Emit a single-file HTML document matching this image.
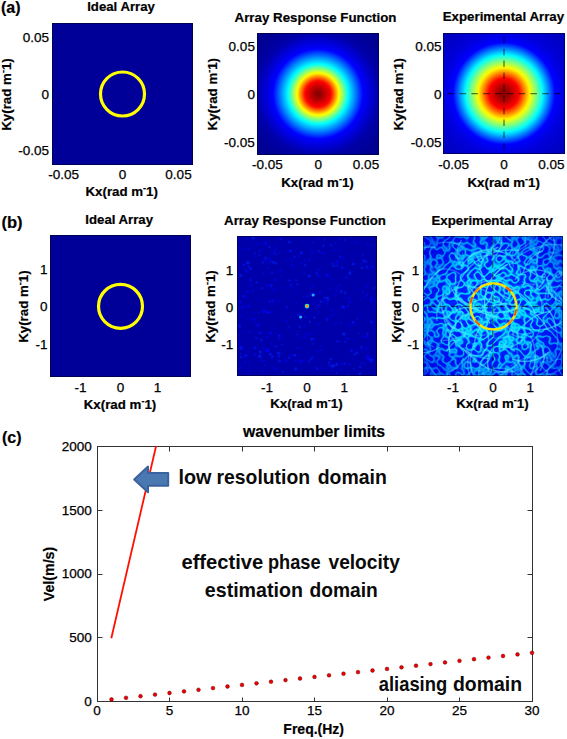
<!DOCTYPE html>
<html><head><meta charset="utf-8"><style>
html,body{margin:0;padding:0;background:#fff;width:567px;height:739px;overflow:hidden}
svg{display:block}
</style></head><body>
<svg width="567" height="739" viewBox="0 0 567 739" font-family="Liberation Sans, sans-serif">
<defs><radialGradient id="garf" gradientUnits="userSpaceOnUse" cx="318.0" cy="94.0" r="90.0"><stop offset="0.0000" stop-color="#800000"/><stop offset="0.0167" stop-color="#8c0000"/><stop offset="0.0333" stop-color="#990000"/><stop offset="0.0500" stop-color="#a60000"/><stop offset="0.0667" stop-color="#b30000"/><stop offset="0.0833" stop-color="#c30000"/><stop offset="0.1000" stop-color="#d30000"/><stop offset="0.1167" stop-color="#e40000"/><stop offset="0.1333" stop-color="#f40000"/><stop offset="0.1500" stop-color="#ff1000"/><stop offset="0.1667" stop-color="#ff4000"/><stop offset="0.1833" stop-color="#ff7000"/><stop offset="0.2000" stop-color="#ff9f00"/><stop offset="0.2167" stop-color="#ffcf00"/><stop offset="0.2333" stop-color="#ffff00"/><stop offset="0.2500" stop-color="#d5ff2a"/><stop offset="0.2667" stop-color="#aaff55"/><stop offset="0.2833" stop-color="#80ff80"/><stop offset="0.3000" stop-color="#55ffaa"/><stop offset="0.3167" stop-color="#2affd5"/><stop offset="0.3333" stop-color="#00ffff"/><stop offset="0.3500" stop-color="#00e5ff"/><stop offset="0.3667" stop-color="#00ccff"/><stop offset="0.3833" stop-color="#00b2ff"/><stop offset="0.4000" stop-color="#0099ff"/><stop offset="0.4167" stop-color="#0080ff"/><stop offset="0.4333" stop-color="#0066ff"/><stop offset="0.4500" stop-color="#004dff"/><stop offset="0.4667" stop-color="#0033ff"/><stop offset="0.4833" stop-color="#001aff"/><stop offset="0.5000" stop-color="#0000ff"/><stop offset="0.5167" stop-color="#0000f7"/><stop offset="0.5333" stop-color="#0000ef"/><stop offset="0.5500" stop-color="#0000e7"/><stop offset="0.5667" stop-color="#0000de"/><stop offset="0.5833" stop-color="#0000d6"/><stop offset="0.6000" stop-color="#0000ce"/><stop offset="0.6167" stop-color="#0000c6"/><stop offset="0.6333" stop-color="#0000be"/><stop offset="0.6500" stop-color="#0000b6"/><stop offset="0.6667" stop-color="#0000ae"/><stop offset="0.6833" stop-color="#0000a8"/><stop offset="0.7000" stop-color="#0000a5"/><stop offset="0.7167" stop-color="#0000a3"/><stop offset="0.7333" stop-color="#0000a1"/><stop offset="0.7500" stop-color="#00009f"/><stop offset="0.7667" stop-color="#00009d"/><stop offset="0.7833" stop-color="#00009a"/><stop offset="0.8000" stop-color="#000098"/><stop offset="0.8167" stop-color="#000096"/><stop offset="0.8333" stop-color="#000094"/><stop offset="0.8500" stop-color="#000093"/><stop offset="0.8667" stop-color="#000092"/><stop offset="0.8833" stop-color="#000091"/><stop offset="0.9000" stop-color="#000090"/><stop offset="0.9167" stop-color="#00008f"/><stop offset="0.9333" stop-color="#00008e"/><stop offset="0.9500" stop-color="#00008d"/><stop offset="0.9667" stop-color="#00008c"/><stop offset="0.9833" stop-color="#00008b"/><stop offset="1.0000" stop-color="#00008a"/></radialGradient><radialGradient id="gexp" gradientUnits="userSpaceOnUse" cx="504.0" cy="93.5" r="90.0"><stop offset="0.0000" stop-color="#800000"/><stop offset="0.0167" stop-color="#8a0000"/><stop offset="0.0333" stop-color="#950000"/><stop offset="0.0500" stop-color="#a00000"/><stop offset="0.0667" stop-color="#ab0000"/><stop offset="0.0833" stop-color="#b70000"/><stop offset="0.1000" stop-color="#c60000"/><stop offset="0.1167" stop-color="#d40000"/><stop offset="0.1333" stop-color="#e20000"/><stop offset="0.1500" stop-color="#f10000"/><stop offset="0.1667" stop-color="#ff0000"/><stop offset="0.1833" stop-color="#ff2300"/><stop offset="0.2000" stop-color="#ff4600"/><stop offset="0.2167" stop-color="#ff6800"/><stop offset="0.2333" stop-color="#ff8b00"/><stop offset="0.2500" stop-color="#ffae00"/><stop offset="0.2667" stop-color="#ffd100"/><stop offset="0.2833" stop-color="#fff300"/><stop offset="0.3000" stop-color="#ebff14"/><stop offset="0.3167" stop-color="#ccff33"/><stop offset="0.3333" stop-color="#adff52"/><stop offset="0.3500" stop-color="#8fff70"/><stop offset="0.3667" stop-color="#70ff8f"/><stop offset="0.3833" stop-color="#52ffad"/><stop offset="0.4000" stop-color="#33ffcc"/><stop offset="0.4167" stop-color="#14ffeb"/><stop offset="0.4333" stop-color="#00f5ff"/><stop offset="0.4500" stop-color="#00d6ff"/><stop offset="0.4667" stop-color="#00b8ff"/><stop offset="0.4833" stop-color="#0099ff"/><stop offset="0.5000" stop-color="#007aff"/><stop offset="0.5167" stop-color="#005cff"/><stop offset="0.5333" stop-color="#003dff"/><stop offset="0.5500" stop-color="#001fff"/><stop offset="0.5667" stop-color="#0000ff"/><stop offset="0.5833" stop-color="#0000fa"/><stop offset="0.6000" stop-color="#0000f4"/><stop offset="0.6167" stop-color="#0000ef"/><stop offset="0.6333" stop-color="#0000ea"/><stop offset="0.6500" stop-color="#0000e4"/><stop offset="0.6667" stop-color="#0000df"/><stop offset="0.6833" stop-color="#0000db"/><stop offset="0.7000" stop-color="#0000d8"/><stop offset="0.7167" stop-color="#0000d6"/><stop offset="0.7333" stop-color="#0000d4"/><stop offset="0.7500" stop-color="#0000d2"/><stop offset="0.7667" stop-color="#0000d0"/><stop offset="0.7833" stop-color="#0000cd"/><stop offset="0.8000" stop-color="#0000cb"/><stop offset="0.8167" stop-color="#0000c9"/><stop offset="0.8333" stop-color="#0000c7"/><stop offset="0.8500" stop-color="#0000c5"/><stop offset="0.8667" stop-color="#0000c4"/><stop offset="0.8833" stop-color="#0000c2"/><stop offset="0.9000" stop-color="#0000c1"/><stop offset="0.9167" stop-color="#0000bf"/><stop offset="0.9333" stop-color="#0000be"/><stop offset="0.9500" stop-color="#0000bc"/><stop offset="0.9667" stop-color="#0000bb"/><stop offset="0.9833" stop-color="#0000b9"/><stop offset="1.0000" stop-color="#0000b8"/></radialGradient><filter id="bl2" x="-5%" y="-5%" width="110%" height="110%"><feGaussianBlur stdDeviation="0.75"/></filter><clipPath id="ca"><rect x="237" y="236" width="140" height="140"/></clipPath></defs>
<text x="1.00" y="13.00" font-size="16.00" font-weight="bold" text-anchor="start" fill="#000" stroke="#000" stroke-width="0.20" >(a)</text><text x="121.00" y="11.30" font-size="13.20" font-weight="bold" text-anchor="middle" fill="#000" stroke="#000" stroke-width="0.20" >Ideal Array</text><rect x="52" y="23" width="141" height="142" fill="#000098"/><circle cx="122.5" cy="94" r="22" fill="none" stroke="#ffff00" stroke-width="3.2"/><text x="49.00" y="42.45" font-size="13.50" text-anchor="end" fill="#000" stroke="#000" stroke-width="0.25" >0.05</text><text x="49.00" y="98.75" font-size="13.50" text-anchor="end" fill="#000" stroke="#000" stroke-width="0.25" >0</text><text x="49.00" y="155.05" font-size="13.50" text-anchor="end" fill="#000" stroke="#000" stroke-width="0.25" >-0.05</text><text x="63.70" y="179.10" font-size="13.50" text-anchor="middle" fill="#000" stroke="#000" stroke-width="0.25" >-0.05</text><text x="122.60" y="179.10" font-size="13.50" text-anchor="middle" fill="#000" stroke="#000" stroke-width="0.25" >0</text><text x="178.50" y="179.10" font-size="13.50" text-anchor="middle" fill="#000" stroke="#000" stroke-width="0.25" >0.05</text><text x="121.70" y="196.20" font-size="13.30" font-weight="bold" text-anchor="middle" fill="#000" stroke="#000" stroke-width="0.20" >Kx(rad m<tspan font-size="9" dy="-5">-</tspan><tspan dy="5">1)</tspan></text><text transform="translate(11.20 94.50) rotate(-90)" font-size="13.30" font-weight="bold" text-anchor="middle" stroke="#000" stroke-width="0.20">Ky(rad m<tspan font-size="9" dy="-5">-</tspan><tspan dy="5">1)</tspan></text><text x="315.50" y="21.50" font-size="13.30" font-weight="bold" text-anchor="middle" fill="#000" stroke="#000" stroke-width="0.20" >Array Response Function</text><rect x="257" y="33" width="122" height="122" fill="url(#garf)"/><text x="254.90" y="50.75" font-size="13.50" text-anchor="end" fill="#000" stroke="#000" stroke-width="0.25" >0.05</text><text x="254.90" y="98.95" font-size="13.50" text-anchor="end" fill="#000" stroke="#000" stroke-width="0.25" >0</text><text x="254.90" y="147.15" font-size="13.50" text-anchor="end" fill="#000" stroke="#000" stroke-width="0.25" >-0.05</text><text x="267.50" y="169.20" font-size="13.50" text-anchor="middle" fill="#000" stroke="#000" stroke-width="0.25" >-0.05</text><text x="318.20" y="169.20" font-size="13.50" text-anchor="middle" fill="#000" stroke="#000" stroke-width="0.25" >0</text><text x="366.00" y="169.20" font-size="13.50" text-anchor="middle" fill="#000" stroke="#000" stroke-width="0.25" >0.05</text><text x="317.50" y="187.00" font-size="13.30" font-weight="bold" text-anchor="middle" fill="#000" stroke="#000" stroke-width="0.20" >Kx(rad m<tspan font-size="9" dy="-5">-</tspan><tspan dy="5">1)</tspan></text><text transform="translate(216.90 94.20) rotate(-90)" font-size="13.30" font-weight="bold" text-anchor="middle" stroke="#000" stroke-width="0.20">Ky(rad m<tspan font-size="9" dy="-5">-</tspan><tspan dy="5">1)</tspan></text><text x="503.40" y="21.40" font-size="13.30" font-weight="bold" text-anchor="middle" fill="#000" stroke="#000" stroke-width="0.20" >Experimental Array</text><rect x="443" y="33" width="122" height="121" fill="url(#gexp)"/><g stroke="#000" stroke-width="1.25" stroke-dasharray="6.5 5.3" opacity="0.55"><line x1="504" y1="33" x2="504" y2="154" stroke-dashoffset="7.8"/><line x1="443" y1="93.5" x2="565" y2="93.5" stroke-dashoffset="7"/></g><text x="441.60" y="50.75" font-size="13.50" text-anchor="end" fill="#000" stroke="#000" stroke-width="0.25" >0.05</text><text x="441.60" y="98.95" font-size="13.50" text-anchor="end" fill="#000" stroke="#000" stroke-width="0.25" >0</text><text x="441.60" y="147.15" font-size="13.50" text-anchor="end" fill="#000" stroke="#000" stroke-width="0.25" >-0.05</text><text x="453.70" y="169.20" font-size="13.50" text-anchor="middle" fill="#000" stroke="#000" stroke-width="0.25" >-0.05</text><text x="503.90" y="169.20" font-size="13.50" text-anchor="middle" fill="#000" stroke="#000" stroke-width="0.25" >0</text><text x="551.40" y="169.20" font-size="13.50" text-anchor="middle" fill="#000" stroke="#000" stroke-width="0.25" >0.05</text><text x="503.70" y="186.70" font-size="13.30" font-weight="bold" text-anchor="middle" fill="#000" stroke="#000" stroke-width="0.20" >Kx(rad m<tspan font-size="9" dy="-5">-</tspan><tspan dy="5">1)</tspan></text><text transform="translate(403.40 94.20) rotate(-90)" font-size="13.30" font-weight="bold" text-anchor="middle" stroke="#000" stroke-width="0.20">Ky(rad m<tspan font-size="9" dy="-5">-</tspan><tspan dy="5">1)</tspan></text><text x="1.50" y="227.80" font-size="16.50" font-weight="bold" text-anchor="start" fill="#000" stroke="#000" stroke-width="0.20" >(b)</text><text x="119.20" y="223.90" font-size="13.20" font-weight="bold" text-anchor="middle" fill="#000" stroke="#000" stroke-width="0.20" >Ideal Array</text><rect x="50" y="235" width="141" height="142" fill="#000098"/><circle cx="120.5" cy="306.3" r="22" fill="none" stroke="#ffff00" stroke-width="3.2"/><text x="47.50" y="274.15" font-size="13.50" text-anchor="end" fill="#000" stroke="#000" stroke-width="0.25" >1</text><text x="47.50" y="311.45" font-size="13.50" text-anchor="end" fill="#000" stroke="#000" stroke-width="0.25" >0</text><text x="47.50" y="349.05" font-size="13.50" text-anchor="end" fill="#000" stroke="#000" stroke-width="0.25" >-1</text><text x="80.50" y="391.90" font-size="13.50" text-anchor="middle" fill="#000" stroke="#000" stroke-width="0.25" >-1</text><text x="120.40" y="391.90" font-size="13.50" text-anchor="middle" fill="#000" stroke="#000" stroke-width="0.25" >0</text><text x="157.50" y="391.90" font-size="13.50" text-anchor="middle" fill="#000" stroke="#000" stroke-width="0.25" >1</text><text x="120.00" y="408.80" font-size="13.30" font-weight="bold" text-anchor="middle" fill="#000" stroke="#000" stroke-width="0.20" >Kx(rad m<tspan font-size="9" dy="-5">-</tspan><tspan dy="5">1)</tspan></text><text transform="translate(28.00 306.60) rotate(-90)" font-size="13.30" font-weight="bold" text-anchor="middle" stroke="#000" stroke-width="0.20">Ky(rad m<tspan font-size="9" dy="-5">-</tspan><tspan dy="5">1)</tspan></text><text x="305.00" y="224.70" font-size="13.30" font-weight="bold" text-anchor="middle" fill="#000" stroke="#000" stroke-width="0.20" >Array Response Function</text><rect x="237" y="236" width="140" height="140" fill="#0000aa"/><g clip-path="url(#ca)"><g filter="url(#bl2)"><circle cx="270.3" cy="312.2" r="1.2" fill="#0015ff" opacity="0.47"/><circle cx="246.2" cy="237.8" r="1.6" fill="#0003ff" opacity="0.33"/><circle cx="376.4" cy="301.8" r="1.6" fill="#000eff" opacity="0.47"/><circle cx="258.1" cy="324.9" r="1.7" fill="#0010ff" opacity="0.51"/><circle cx="331.0" cy="245.0" r="1.6" fill="#0014ff" opacity="0.36"/><circle cx="241.3" cy="357.2" r="1.3" fill="#001aff" opacity="0.56"/><circle cx="337.0" cy="365.0" r="1.2" fill="#001fff" opacity="0.41"/><circle cx="368.0" cy="359.0" r="0.9" fill="#0000fc" opacity="0.33"/><circle cx="372.2" cy="297.1" r="1.4" fill="#0005ff" opacity="0.43"/><circle cx="291.0" cy="285.1" r="1.4" fill="#0014ff" opacity="0.57"/><circle cx="332.5" cy="366.1" r="1.7" fill="#0028ff" opacity="0.48"/><circle cx="259.8" cy="356.5" r="1.8" fill="#0024ff" opacity="0.45"/><circle cx="336.9" cy="265.6" r="1.6" fill="#0013ff" opacity="0.35"/><circle cx="245.9" cy="355.6" r="1.8" fill="#0000f9" opacity="0.53"/><circle cx="294.5" cy="257.1" r="1.1" fill="#001dff" opacity="0.56"/><circle cx="243.2" cy="322.0" r="0.8" fill="#001aff" opacity="0.37"/><circle cx="360.3" cy="373.3" r="1.3" fill="#0029ff" opacity="0.36"/><circle cx="247.8" cy="320.0" r="0.8" fill="#0000ff" opacity="0.39"/><circle cx="322.5" cy="257.9" r="0.8" fill="#0022ff" opacity="0.36"/><circle cx="371.2" cy="361.5" r="1.2" fill="#000dff" opacity="0.43"/><circle cx="327.1" cy="319.4" r="1.4" fill="#0015ff" opacity="0.58"/><circle cx="308.0" cy="296.4" r="1.5" fill="#0002ff" opacity="0.36"/><circle cx="373.9" cy="309.0" r="1.3" fill="#0000f5" opacity="0.40"/><circle cx="318.2" cy="238.8" r="1.4" fill="#0016ff" opacity="0.27"/><circle cx="324.8" cy="301.3" r="1.5" fill="#0008ff" opacity="0.50"/><circle cx="340.3" cy="239.1" r="0.9" fill="#0018ff" opacity="0.59"/><circle cx="272.2" cy="299.9" r="1.4" fill="#0006ff" opacity="0.38"/><circle cx="280.8" cy="287.7" r="1.4" fill="#0005ff" opacity="0.38"/><circle cx="345.1" cy="239.8" r="1.4" fill="#001bff" opacity="0.36"/><circle cx="268.2" cy="348.5" r="1.0" fill="#0000fe" opacity="0.40"/><circle cx="334.7" cy="250.3" r="1.1" fill="#0007ff" opacity="0.54"/><circle cx="298.4" cy="355.8" r="1.0" fill="#0007ff" opacity="0.48"/><circle cx="360.9" cy="299.2" r="1.0" fill="#0000fb" opacity="0.44"/><circle cx="263.7" cy="348.9" r="1.6" fill="#0000fe" opacity="0.35"/><circle cx="350.0" cy="325.9" r="1.6" fill="#0007ff" opacity="0.30"/><circle cx="277.9" cy="347.1" r="1.1" fill="#0007ff" opacity="0.40"/><circle cx="295.8" cy="293.3" r="1.7" fill="#0000fd" opacity="0.25"/><circle cx="369.1" cy="359.2" r="1.8" fill="#000cff" opacity="0.58"/><circle cx="366.8" cy="267.1" r="1.5" fill="#0020ff" opacity="0.48"/><circle cx="309.7" cy="276.5" r="1.1" fill="#0001ff" opacity="0.27"/><circle cx="319.4" cy="276.2" r="1.6" fill="#0000f7" opacity="0.57"/><circle cx="334.1" cy="365.3" r="1.7" fill="#0024ff" opacity="0.45"/><circle cx="238.8" cy="340.3" r="1.0" fill="#0005ff" opacity="0.48"/><circle cx="310.5" cy="293.9" r="1.7" fill="#0015ff" opacity="0.37"/><circle cx="272.3" cy="356.6" r="1.3" fill="#001eff" opacity="0.37"/><circle cx="264.6" cy="310.8" r="1.6" fill="#0000fe" opacity="0.53"/><circle cx="366.0" cy="348.8" r="1.6" fill="#0000f5" opacity="0.47"/><circle cx="357.8" cy="243.0" r="1.1" fill="#0003ff" opacity="0.43"/><circle cx="296.2" cy="302.2" r="1.6" fill="#0000f5" opacity="0.27"/><circle cx="254.8" cy="253.4" r="0.9" fill="#0028ff" opacity="0.55"/><circle cx="249.1" cy="306.3" r="1.1" fill="#0006ff" opacity="0.37"/><circle cx="327.6" cy="318.1" r="1.2" fill="#0000ff" opacity="0.37"/><circle cx="254.3" cy="313.8" r="1.5" fill="#0009ff" opacity="0.28"/><circle cx="262.0" cy="288.3" r="1.4" fill="#001eff" opacity="0.38"/><circle cx="349.2" cy="323.2" r="1.2" fill="#0009ff" opacity="0.42"/><circle cx="335.4" cy="294.9" r="1.5" fill="#000dff" opacity="0.34"/><circle cx="312.0" cy="333.3" r="0.9" fill="#000bff" opacity="0.40"/><circle cx="360.2" cy="367.1" r="1.2" fill="#0024ff" opacity="0.53"/><circle cx="273.7" cy="301.0" r="0.9" fill="#001fff" opacity="0.48"/><circle cx="361.2" cy="346.9" r="1.5" fill="#001bff" opacity="0.45"/><circle cx="251.4" cy="318.3" r="0.8" fill="#0000fc" opacity="0.52"/><circle cx="243.2" cy="248.9" r="0.9" fill="#0023ff" opacity="0.31"/><circle cx="240.3" cy="353.8" r="0.9" fill="#0021ff" opacity="0.49"/><circle cx="354.1" cy="369.3" r="1.4" fill="#001fff" opacity="0.26"/><circle cx="344.4" cy="307.6" r="1.5" fill="#0000fa" opacity="0.51"/><circle cx="367.8" cy="244.6" r="1.1" fill="#0013ff" opacity="0.54"/><circle cx="270.9" cy="261.2" r="1.0" fill="#0015ff" opacity="0.51"/><circle cx="292.1" cy="287.4" r="1.2" fill="#0008ff" opacity="0.40"/><circle cx="248.7" cy="306.0" r="1.8" fill="#000bff" opacity="0.51"/><circle cx="259.5" cy="332.7" r="1.6" fill="#0018ff" opacity="0.43"/><circle cx="304.7" cy="326.0" r="1.7" fill="#0000fc" opacity="0.28"/><circle cx="341.7" cy="364.3" r="1.3" fill="#000cff" opacity="0.50"/><circle cx="263.1" cy="273.4" r="1.0" fill="#0014ff" opacity="0.36"/><circle cx="269.5" cy="332.8" r="1.8" fill="#0005ff" opacity="0.50"/><circle cx="294.8" cy="355.5" r="1.4" fill="#0003ff" opacity="0.33"/><circle cx="240.2" cy="303.1" r="1.2" fill="#0000fe" opacity="0.38"/><circle cx="282.1" cy="344.4" r="0.9" fill="#0028ff" opacity="0.42"/><circle cx="320.9" cy="301.5" r="1.6" fill="#0020ff" opacity="0.44"/><circle cx="304.4" cy="336.9" r="1.7" fill="#000aff" opacity="0.51"/><circle cx="371.4" cy="301.4" r="1.0" fill="#0002ff" opacity="0.50"/><circle cx="331.5" cy="370.2" r="1.7" fill="#0002ff" opacity="0.32"/><circle cx="273.2" cy="262.2" r="1.5" fill="#0022ff" opacity="0.56"/><circle cx="272.7" cy="357.1" r="1.1" fill="#000bff" opacity="0.51"/><circle cx="249.0" cy="249.0" r="1.6" fill="#0005ff" opacity="0.37"/><circle cx="318.2" cy="330.6" r="0.8" fill="#0007ff" opacity="0.40"/><circle cx="305.0" cy="265.4" r="1.4" fill="#0027ff" opacity="0.39"/><circle cx="313.2" cy="252.7" r="1.1" fill="#0018ff" opacity="0.29"/><circle cx="361.2" cy="363.2" r="0.9" fill="#0026ff" opacity="0.38"/><circle cx="345.1" cy="342.0" r="1.1" fill="#0018ff" opacity="0.48"/><circle cx="349.8" cy="273.2" r="1.6" fill="#0027ff" opacity="0.49"/><circle cx="312.1" cy="251.9" r="1.3" fill="#0008ff" opacity="0.50"/><circle cx="332.0" cy="315.3" r="1.0" fill="#0017ff" opacity="0.47"/><circle cx="262.1" cy="360.6" r="1.5" fill="#0000fb" opacity="0.58"/><circle cx="256.8" cy="282.4" r="1.5" fill="#0014ff" opacity="0.44"/><circle cx="327.6" cy="300.1" r="1.1" fill="#0000fe" opacity="0.27"/><circle cx="337.2" cy="341.6" r="1.3" fill="#001cff" opacity="0.38"/><circle cx="274.2" cy="289.7" r="1.7" fill="#0000f7" opacity="0.43"/><circle cx="271.6" cy="343.6" r="1.2" fill="#0007ff" opacity="0.39"/><circle cx="312.8" cy="344.0" r="1.2" fill="#0021ff" opacity="0.29"/><circle cx="274.9" cy="250.0" r="0.9" fill="#001eff" opacity="0.50"/><circle cx="262.9" cy="262.5" r="1.2" fill="#001cff" opacity="0.54"/><circle cx="341.8" cy="318.9" r="0.9" fill="#000aff" opacity="0.32"/><circle cx="310.9" cy="315.6" r="1.0" fill="#0003ff" opacity="0.52"/><circle cx="241.2" cy="348.4" r="1.7" fill="#0026ff" opacity="0.38"/><circle cx="314.4" cy="317.6" r="1.4" fill="#0028ff" opacity="0.49"/><circle cx="278.9" cy="356.4" r="1.3" fill="#0014ff" opacity="0.50"/><circle cx="237.3" cy="343.9" r="1.5" fill="#000fff" opacity="0.43"/><circle cx="301.5" cy="263.1" r="1.3" fill="#0000f7" opacity="0.43"/><circle cx="327.4" cy="298.2" r="1.4" fill="#0027ff" opacity="0.56"/><circle cx="256.0" cy="346.9" r="1.4" fill="#0000f7" opacity="0.38"/><circle cx="269.7" cy="246.9" r="1.3" fill="#0025ff" opacity="0.36"/><circle cx="358.9" cy="333.3" r="0.9" fill="#0022ff" opacity="0.46"/><circle cx="366.8" cy="336.2" r="1.5" fill="#0007ff" opacity="0.53"/><circle cx="367.4" cy="356.6" r="1.2" fill="#001cff" opacity="0.42"/><circle cx="252.3" cy="242.0" r="0.9" fill="#0000ff" opacity="0.31"/><circle cx="306.6" cy="333.9" r="1.3" fill="#000bff" opacity="0.48"/><circle cx="279.7" cy="301.0" r="1.6" fill="#000aff" opacity="0.31"/><circle cx="362.9" cy="336.8" r="1.2" fill="#0009ff" opacity="0.44"/><circle cx="320.5" cy="267.3" r="0.8" fill="#0000ff" opacity="0.52"/><circle cx="257.1" cy="300.4" r="1.0" fill="#0000ff" opacity="0.31"/><circle cx="293.5" cy="259.6" r="0.8" fill="#0000fa" opacity="0.31"/><circle cx="305.6" cy="244.4" r="0.8" fill="#000dff" opacity="0.39"/><circle cx="335.5" cy="243.2" r="1.2" fill="#000aff" opacity="0.26"/><circle cx="372.2" cy="266.6" r="0.9" fill="#000eff" opacity="0.31"/><circle cx="324.1" cy="284.5" r="0.9" fill="#0000f7" opacity="0.50"/><circle cx="275.5" cy="346.3" r="1.3" fill="#0025ff" opacity="0.36"/><circle cx="272.0" cy="273.2" r="1.6" fill="#0016ff" opacity="0.37"/><circle cx="250.1" cy="331.5" r="1.8" fill="#0014ff" opacity="0.25"/><circle cx="241.2" cy="248.7" r="1.0" fill="#0000f7" opacity="0.27"/><circle cx="328.6" cy="362.0" r="1.0" fill="#0027ff" opacity="0.42"/><circle cx="349.5" cy="364.4" r="1.7" fill="#0000f7" opacity="0.36"/><circle cx="322.0" cy="368.5" r="0.9" fill="#0005ff" opacity="0.55"/><circle cx="253.1" cy="290.6" r="1.1" fill="#0018ff" opacity="0.57"/><circle cx="261.4" cy="339.6" r="1.5" fill="#0020ff" opacity="0.44"/><circle cx="366.3" cy="286.8" r="1.2" fill="#0001ff" opacity="0.52"/><circle cx="304.3" cy="273.7" r="1.0" fill="#001bff" opacity="0.46"/><circle cx="336.5" cy="290.2" r="1.3" fill="#0000fd" opacity="0.50"/><circle cx="240.2" cy="301.4" r="1.6" fill="#0018ff" opacity="0.28"/><circle cx="270.2" cy="354.1" r="1.4" fill="#0023ff" opacity="0.56"/><circle cx="300.0" cy="361.6" r="1.5" fill="#0007ff" opacity="0.38"/><circle cx="247.1" cy="291.9" r="1.8" fill="#0000fa" opacity="0.45"/><circle cx="252.4" cy="247.3" r="1.4" fill="#0002ff" opacity="0.27"/><circle cx="258.4" cy="326.2" r="1.4" fill="#0000f5" opacity="0.33"/><circle cx="372.4" cy="266.8" r="1.4" fill="#000bff" opacity="0.52"/><circle cx="321.6" cy="346.4" r="1.3" fill="#0000fe" opacity="0.31"/><circle cx="248.1" cy="351.6" r="0.9" fill="#0000f6" opacity="0.59"/><circle cx="264.9" cy="361.1" r="0.9" fill="#000eff" opacity="0.33"/><circle cx="353.1" cy="322.2" r="1.4" fill="#001dff" opacity="0.56"/><circle cx="285.4" cy="320.4" r="1.2" fill="#0000fa" opacity="0.54"/><circle cx="320.2" cy="350.1" r="1.0" fill="#0011ff" opacity="0.41"/><circle cx="338.9" cy="246.8" r="1.1" fill="#000fff" opacity="0.28"/><circle cx="314.4" cy="338.9" r="1.2" fill="#0017ff" opacity="0.46"/><circle cx="267.0" cy="285.1" r="1.8" fill="#0007ff" opacity="0.40"/><circle cx="248.8" cy="266.5" r="1.0" fill="#0025ff" opacity="0.50"/><circle cx="359.5" cy="374.1" r="1.4" fill="#0025ff" opacity="0.44"/><circle cx="295.6" cy="368.7" r="1.7" fill="#0026ff" opacity="0.42"/><circle cx="345.3" cy="293.0" r="1.8" fill="#0025ff" opacity="0.35"/><circle cx="367.8" cy="261.8" r="0.9" fill="#001bff" opacity="0.35"/><circle cx="309.7" cy="325.5" r="0.8" fill="#001cff" opacity="0.35"/><circle cx="297.5" cy="284.3" r="1.5" fill="#001cff" opacity="0.35"/><circle cx="251.5" cy="277.9" r="1.2" fill="#0000f9" opacity="0.30"/><circle cx="343.8" cy="334.1" r="1.8" fill="#0028ff" opacity="0.56"/><circle cx="289.2" cy="258.6" r="1.1" fill="#000dff" opacity="0.43"/><circle cx="312.9" cy="286.4" r="1.7" fill="#0004ff" opacity="0.41"/><circle cx="361.2" cy="349.0" r="1.1" fill="#0002ff" opacity="0.53"/><circle cx="238.4" cy="254.4" r="1.3" fill="#0011ff" opacity="0.31"/><circle cx="244.0" cy="264.6" r="1.6" fill="#000eff" opacity="0.59"/><circle cx="347.0" cy="373.1" r="0.8" fill="#0000fe" opacity="0.25"/><circle cx="297.5" cy="283.4" r="0.9" fill="#0012ff" opacity="0.28"/><circle cx="280.6" cy="270.6" r="1.6" fill="#000bff" opacity="0.34"/><circle cx="243.2" cy="296.1" r="1.4" fill="#0018ff" opacity="0.57"/><circle cx="350.2" cy="270.6" r="0.9" fill="#001cff" opacity="0.53"/><circle cx="308.2" cy="352.3" r="1.4" fill="#0004ff" opacity="0.31"/><circle cx="239.4" cy="326.0" r="1.7" fill="#0024ff" opacity="0.41"/><circle cx="330.2" cy="366.0" r="1.6" fill="#0015ff" opacity="0.40"/><circle cx="309.6" cy="259.9" r="1.0" fill="#0019ff" opacity="0.60"/><circle cx="313.6" cy="293.1" r="1.2" fill="#000dff" opacity="0.53"/><circle cx="300.4" cy="370.3" r="1.0" fill="#0006ff" opacity="0.43"/><circle cx="294.7" cy="355.1" r="1.6" fill="#0025ff" opacity="0.46"/><circle cx="241.3" cy="316.4" r="1.3" fill="#000fff" opacity="0.35"/><circle cx="336.3" cy="363.6" r="0.9" fill="#0018ff" opacity="0.38"/><circle cx="309.1" cy="361.4" r="1.8" fill="#0017ff" opacity="0.32"/><circle cx="365.9" cy="261.4" r="1.2" fill="#0020ff" opacity="0.36"/><circle cx="274.9" cy="369.0" r="1.7" fill="#0006ff" opacity="0.39"/><circle cx="276.5" cy="254.4" r="1.1" fill="#0028ff" opacity="0.28"/><circle cx="269.2" cy="264.0" r="0.9" fill="#0011ff" opacity="0.51"/><circle cx="354.4" cy="324.4" r="1.6" fill="#0000f5" opacity="0.35"/><circle cx="371.6" cy="245.7" r="1.1" fill="#000eff" opacity="0.34"/><circle cx="313.5" cy="242.6" r="1.0" fill="#0027ff" opacity="0.30"/><circle cx="363.8" cy="260.9" r="1.8" fill="#0018ff" opacity="0.48"/><circle cx="256.9" cy="243.6" r="1.6" fill="#0000fe" opacity="0.32"/><circle cx="352.2" cy="358.5" r="0.8" fill="#0027ff" opacity="0.44"/><circle cx="290.5" cy="251.0" r="1.2" fill="#0028ff" opacity="0.35"/><circle cx="255.4" cy="256.3" r="0.9" fill="#0008ff" opacity="0.57"/><circle cx="247.8" cy="262.9" r="1.7" fill="#0029ff" opacity="0.59"/><circle cx="271.4" cy="285.6" r="1.8" fill="#000fff" opacity="0.50"/><circle cx="280.9" cy="239.0" r="1.1" fill="#001cff" opacity="0.52"/><circle cx="316.6" cy="301.0" r="1.3" fill="#000cff" opacity="0.44"/><circle cx="353.6" cy="264.1" r="1.4" fill="#0025ff" opacity="0.55"/><circle cx="262.1" cy="370.9" r="1.6" fill="#0000fd" opacity="0.34"/><circle cx="265.3" cy="243.4" r="1.8" fill="#000bff" opacity="0.56"/><circle cx="253.0" cy="237.9" r="1.7" fill="#001eff" opacity="0.60"/><circle cx="333.0" cy="309.5" r="1.6" fill="#0000fa" opacity="0.44"/><circle cx="298.8" cy="256.5" r="1.4" fill="#0006ff" opacity="0.43"/><circle cx="289.3" cy="280.5" r="1.2" fill="#0014ff" opacity="0.59"/><circle cx="368.1" cy="356.7" r="1.6" fill="#0004ff" opacity="0.59"/><circle cx="274.8" cy="253.2" r="1.3" fill="#001bff" opacity="0.37"/><circle cx="327.3" cy="275.5" r="1.8" fill="#000dff" opacity="0.42"/><circle cx="311.4" cy="358.5" r="1.8" fill="#0011ff" opacity="0.40"/><circle cx="323.5" cy="245.7" r="1.2" fill="#0021ff" opacity="0.52"/><circle cx="245.3" cy="355.6" r="1.2" fill="#0028ff" opacity="0.38"/><circle cx="267.1" cy="312.8" r="1.7" fill="#000cff" opacity="0.55"/><circle cx="336.6" cy="286.6" r="1.1" fill="#0010ff" opacity="0.39"/><circle cx="289.2" cy="327.2" r="1.7" fill="#0014ff" opacity="0.30"/><circle cx="267.8" cy="287.9" r="1.4" fill="#0000fc" opacity="0.28"/><circle cx="281.9" cy="275.6" r="0.8" fill="#0011ff" opacity="0.57"/><circle cx="311.8" cy="339.2" r="1.6" fill="#0021ff" opacity="0.57"/><circle cx="298.8" cy="331.5" r="0.9" fill="#0023ff" opacity="0.38"/><circle cx="303.5" cy="360.6" r="1.1" fill="#0000fe" opacity="0.54"/><circle cx="320.8" cy="247.9" r="0.8" fill="#0008ff" opacity="0.25"/><circle cx="353.5" cy="261.7" r="1.1" fill="#000aff" opacity="0.43"/><circle cx="297.5" cy="324.0" r="1.5" fill="#000cff" opacity="0.28"/><circle cx="374.1" cy="332.8" r="0.9" fill="#000cff" opacity="0.51"/><circle cx="375.8" cy="245.2" r="0.8" fill="#000eff" opacity="0.40"/><circle cx="362.2" cy="351.7" r="1.1" fill="#000bff" opacity="0.45"/><circle cx="360.8" cy="264.3" r="1.2" fill="#0000f9" opacity="0.47"/><circle cx="240.7" cy="366.9" r="1.3" fill="#0013ff" opacity="0.28"/><circle cx="269.5" cy="301.6" r="1.7" fill="#0011ff" opacity="0.35"/><circle cx="374.5" cy="328.6" r="1.3" fill="#0000ff" opacity="0.35"/><circle cx="363.0" cy="254.6" r="1.3" fill="#0015ff" opacity="0.37"/><circle cx="344.6" cy="363.4" r="1.7" fill="#001bff" opacity="0.32"/><circle cx="245.4" cy="296.6" r="1.1" fill="#0000ff" opacity="0.55"/><circle cx="267.2" cy="351.2" r="1.7" fill="#0000fb" opacity="0.57"/><circle cx="292.6" cy="265.7" r="1.0" fill="#0000f7" opacity="0.42"/><circle cx="290.8" cy="355.2" r="1.6" fill="#0000f8" opacity="0.39"/><circle cx="291.5" cy="260.9" r="1.1" fill="#0003ff" opacity="0.49"/><circle cx="284.6" cy="251.6" r="1.0" fill="#000cff" opacity="0.45"/><circle cx="271.4" cy="333.9" r="1.0" fill="#0018ff" opacity="0.46"/><circle cx="261.6" cy="341.1" r="1.2" fill="#0011ff" opacity="0.46"/><circle cx="324.9" cy="297.9" r="0.9" fill="#001eff" opacity="0.55"/><circle cx="305.6" cy="317.1" r="1.1" fill="#0024ff" opacity="0.49"/><circle cx="268.1" cy="350.4" r="1.8" fill="#0007ff" opacity="0.60"/><circle cx="304.6" cy="261.0" r="1.5" fill="#0007ff" opacity="0.51"/><circle cx="318.7" cy="251.1" r="1.3" fill="#0021ff" opacity="0.42"/><circle cx="312.5" cy="356.8" r="1.2" fill="#000fff" opacity="0.45"/><circle cx="352.3" cy="264.4" r="0.9" fill="#001dff" opacity="0.44"/><circle cx="279.4" cy="360.9" r="1.7" fill="#0011ff" opacity="0.60"/><circle cx="354.0" cy="340.7" r="1.1" fill="#0000f5" opacity="0.49"/><circle cx="339.9" cy="285.1" r="1.3" fill="#0013ff" opacity="0.34"/><circle cx="334.7" cy="314.8" r="1.2" fill="#0000fa" opacity="0.44"/><circle cx="281.8" cy="337.5" r="1.0" fill="#000aff" opacity="0.32"/><circle cx="294.2" cy="316.7" r="0.9" fill="#0000f8" opacity="0.42"/><circle cx="265.2" cy="306.7" r="1.0" fill="#0000fa" opacity="0.44"/><circle cx="366.2" cy="357.6" r="1.3" fill="#000aff" opacity="0.27"/><circle cx="275.7" cy="280.0" r="1.7" fill="#0000fb" opacity="0.58"/><circle cx="303.7" cy="296.8" r="1.1" fill="#0027ff" opacity="0.32"/><circle cx="317.0" cy="307.5" r="1.0" fill="#0001ff" opacity="0.59"/><circle cx="347.7" cy="338.7" r="1.7" fill="#0000fa" opacity="0.50"/><circle cx="342.1" cy="267.6" r="1.3" fill="#0027ff" opacity="0.36"/><circle cx="343.7" cy="259.1" r="1.5" fill="#0004ff" opacity="0.43"/><circle cx="289.1" cy="357.8" r="1.5" fill="#0010ff" opacity="0.49"/><circle cx="296.9" cy="348.6" r="1.1" fill="#0012ff" opacity="0.45"/><circle cx="291.3" cy="242.5" r="1.0" fill="#0016ff" opacity="0.32"/><circle cx="343.1" cy="306.7" r="1.8" fill="#0021ff" opacity="0.50"/><circle cx="289.2" cy="242.1" r="1.4" fill="#001cff" opacity="0.57"/><circle cx="265.4" cy="258.2" r="1.8" fill="#001cff" opacity="0.42"/><circle cx="340.4" cy="256.9" r="1.3" fill="#0018ff" opacity="0.46"/><circle cx="259.6" cy="255.2" r="1.4" fill="#0023ff" opacity="0.30"/><circle cx="238.0" cy="247.6" r="1.6" fill="#000aff" opacity="0.41"/><circle cx="376.2" cy="321.6" r="1.1" fill="#001aff" opacity="0.25"/><circle cx="276.4" cy="333.8" r="1.0" fill="#0000f6" opacity="0.43"/><circle cx="282.9" cy="372.0" r="0.9" fill="#001fff" opacity="0.39"/><circle cx="349.8" cy="298.3" r="1.5" fill="#0006ff" opacity="0.33"/><circle cx="300.3" cy="348.0" r="1.1" fill="#0002ff" opacity="0.40"/><circle cx="250.4" cy="280.2" r="1.4" fill="#0012ff" opacity="0.46"/><circle cx="277.6" cy="239.5" r="0.8" fill="#0007ff" opacity="0.32"/><circle cx="316.7" cy="273.2" r="1.6" fill="#0014ff" opacity="0.48"/><circle cx="340.0" cy="309.0" r="1.2" fill="#0006ff" opacity="0.27"/><circle cx="348.2" cy="306.0" r="0.9" fill="#0025ff" opacity="0.45"/><circle cx="324.3" cy="297.4" r="0.9" fill="#0029ff" opacity="0.31"/><circle cx="288.3" cy="375.9" r="0.9" fill="#000fff" opacity="0.42"/><circle cx="271.7" cy="365.4" r="1.2" fill="#0000f5" opacity="0.42"/><circle cx="237.7" cy="335.2" r="1.7" fill="#0024ff" opacity="0.27"/><circle cx="331.5" cy="278.7" r="1.3" fill="#0005ff" opacity="0.36"/><circle cx="255.6" cy="323.6" r="0.9" fill="#0027ff" opacity="0.27"/><circle cx="372.0" cy="262.8" r="0.9" fill="#001cff" opacity="0.44"/><circle cx="344.6" cy="307.2" r="1.4" fill="#0000f9" opacity="0.49"/><circle cx="308.7" cy="370.7" r="0.8" fill="#0000f8" opacity="0.49"/><circle cx="366.7" cy="295.0" r="1.5" fill="#0012ff" opacity="0.39"/><circle cx="302.2" cy="320.2" r="0.8" fill="#0005ff" opacity="0.51"/><circle cx="273.1" cy="302.2" r="1.1" fill="#0008ff" opacity="0.48"/><circle cx="341.1" cy="370.0" r="1.3" fill="#0000ff" opacity="0.37"/><circle cx="245.2" cy="269.5" r="1.4" fill="#0015ff" opacity="0.33"/><circle cx="262.4" cy="249.7" r="1.0" fill="#000fff" opacity="0.34"/><circle cx="360.7" cy="315.1" r="1.1" fill="#000cff" opacity="0.26"/><circle cx="339.6" cy="341.2" r="1.2" fill="#001bff" opacity="0.35"/><circle cx="267.7" cy="268.0" r="1.0" fill="#0015ff" opacity="0.47"/><circle cx="338.9" cy="250.5" r="1.6" fill="#000eff" opacity="0.38"/><circle cx="307.4" cy="296.6" r="1.0" fill="#000aff" opacity="0.48"/><circle cx="337.1" cy="364.1" r="1.0" fill="#0023ff" opacity="0.53"/><circle cx="336.8" cy="373.1" r="0.9" fill="#001dff" opacity="0.56"/><circle cx="254.1" cy="319.3" r="1.7" fill="#0005ff" opacity="0.55"/><circle cx="363.9" cy="296.9" r="0.9" fill="#0001ff" opacity="0.54"/><circle cx="296.1" cy="280.2" r="1.2" fill="#0025ff" opacity="0.34"/><circle cx="239.6" cy="368.9" r="1.1" fill="#0009ff" opacity="0.59"/><circle cx="276.5" cy="248.0" r="1.7" fill="#0002ff" opacity="0.33"/><circle cx="368.3" cy="268.1" r="1.7" fill="#0007ff" opacity="0.36"/><circle cx="267.2" cy="311.9" r="1.4" fill="#000aff" opacity="0.43"/><circle cx="278.7" cy="353.3" r="1.7" fill="#001cff" opacity="0.54"/><circle cx="246.9" cy="271.0" r="1.0" fill="#0000fd" opacity="0.59"/><circle cx="363.7" cy="364.0" r="1.4" fill="#0000fb" opacity="0.40"/><circle cx="244.9" cy="362.6" r="1.1" fill="#0004ff" opacity="0.58"/><circle cx="265.1" cy="365.2" r="1.1" fill="#0018ff" opacity="0.29"/><circle cx="362.8" cy="291.8" r="1.1" fill="#0017ff" opacity="0.46"/><circle cx="272.1" cy="253.4" r="1.4" fill="#0000f6" opacity="0.56"/><circle cx="285.1" cy="259.7" r="1.1" fill="#0000fb" opacity="0.36"/><circle cx="313.1" cy="293.0" r="1.1" fill="#0005ff" opacity="0.42"/><circle cx="346.0" cy="297.3" r="1.6" fill="#000eff" opacity="0.29"/><circle cx="260.8" cy="354.7" r="1.3" fill="#0009ff" opacity="0.43"/><circle cx="355.5" cy="288.5" r="1.2" fill="#0008ff" opacity="0.25"/><circle cx="313.3" cy="303.1" r="1.3" fill="#000dff" opacity="0.42"/><circle cx="337.2" cy="262.1" r="1.8" fill="#0000fb" opacity="0.55"/><circle cx="261.5" cy="347.3" r="1.1" fill="#0000f9" opacity="0.44"/><circle cx="354.5" cy="354.4" r="1.7" fill="#0028ff" opacity="0.27"/><circle cx="290.1" cy="251.0" r="1.6" fill="#000dff" opacity="0.51"/><circle cx="348.4" cy="375.9" r="1.5" fill="#0022ff" opacity="0.44"/><circle cx="248.3" cy="360.8" r="0.9" fill="#0000f9" opacity="0.54"/><circle cx="276.3" cy="328.7" r="0.8" fill="#0001ff" opacity="0.50"/><circle cx="242.3" cy="307.5" r="1.7" fill="#0001ff" opacity="0.50"/><circle cx="341.1" cy="322.8" r="1.6" fill="#0019ff" opacity="0.25"/><circle cx="263.9" cy="311.1" r="1.8" fill="#0001ff" opacity="0.46"/><circle cx="255.0" cy="354.6" r="1.2" fill="#0010ff" opacity="0.48"/><circle cx="256.1" cy="338.0" r="1.6" fill="#0022ff" opacity="0.35"/><circle cx="269.8" cy="259.1" r="1.7" fill="#000cff" opacity="0.39"/><circle cx="309.9" cy="333.8" r="1.1" fill="#0007ff" opacity="0.52"/><circle cx="345.7" cy="277.4" r="0.9" fill="#0025ff" opacity="0.51"/><circle cx="320.2" cy="292.7" r="1.8" fill="#000cff" opacity="0.33"/><circle cx="251.0" cy="285.1" r="1.4" fill="#0008ff" opacity="0.58"/><circle cx="328.0" cy="300.1" r="1.5" fill="#0014ff" opacity="0.47"/><circle cx="306.3" cy="309.2" r="1.3" fill="#0020ff" opacity="0.32"/><circle cx="347.0" cy="277.8" r="1.6" fill="#0000f9" opacity="0.42"/><circle cx="299.0" cy="335.6" r="1.0" fill="#0003ff" opacity="0.30"/><circle cx="315.6" cy="316.7" r="0.8" fill="#0000fe" opacity="0.32"/><circle cx="371.0" cy="299.7" r="1.4" fill="#0005ff" opacity="0.48"/><circle cx="350.8" cy="330.0" r="0.8" fill="#000cff" opacity="0.42"/><circle cx="243.2" cy="346.6" r="1.1" fill="#0005ff" opacity="0.47"/><circle cx="318.9" cy="305.5" r="1.7" fill="#0010ff" opacity="0.37"/><circle cx="246.0" cy="313.4" r="1.2" fill="#0011ff" opacity="0.37"/><circle cx="238.0" cy="241.3" r="1.0" fill="#0000fa" opacity="0.55"/><circle cx="318.3" cy="269.4" r="1.5" fill="#0016ff" opacity="0.27"/><circle cx="342.2" cy="268.0" r="1.8" fill="#0000fc" opacity="0.35"/><circle cx="271.9" cy="356.7" r="1.6" fill="#0013ff" opacity="0.30"/><circle cx="297.0" cy="334.3" r="0.9" fill="#0025ff" opacity="0.54"/><circle cx="367.4" cy="333.8" r="1.4" fill="#0028ff" opacity="0.34"/><circle cx="279.8" cy="253.2" r="1.0" fill="#001fff" opacity="0.28"/><circle cx="341.2" cy="291.5" r="1.7" fill="#001dff" opacity="0.49"/><circle cx="355.3" cy="242.0" r="1.1" fill="#0009ff" opacity="0.40"/><circle cx="330.8" cy="359.1" r="1.5" fill="#0025ff" opacity="0.49"/><circle cx="286.9" cy="307.1" r="1.5" fill="#001fff" opacity="0.38"/><circle cx="286.8" cy="322.0" r="1.0" fill="#0023ff" opacity="0.25"/><circle cx="327.8" cy="304.0" r="1.0" fill="#0013ff" opacity="0.42"/><circle cx="371.7" cy="359.8" r="1.4" fill="#0022ff" opacity="0.56"/><circle cx="260.1" cy="351.8" r="1.6" fill="#0028ff" opacity="0.52"/><circle cx="291.9" cy="264.9" r="1.5" fill="#0001ff" opacity="0.52"/><circle cx="317.4" cy="351.6" r="1.2" fill="#0005ff" opacity="0.57"/><circle cx="329.8" cy="289.0" r="1.4" fill="#000cff" opacity="0.48"/><circle cx="309.3" cy="276.0" r="1.8" fill="#0023ff" opacity="0.52"/><circle cx="276.0" cy="263.2" r="1.5" fill="#0020ff" opacity="0.48"/><circle cx="266.9" cy="336.9" r="1.3" fill="#0009ff" opacity="0.46"/><circle cx="299.8" cy="326.8" r="1.6" fill="#0028ff" opacity="0.29"/><circle cx="317.0" cy="368.4" r="1.5" fill="#0013ff" opacity="0.55"/><circle cx="241.4" cy="347.0" r="1.4" fill="#0014ff" opacity="0.36"/><circle cx="323.7" cy="253.6" r="1.3" fill="#0003ff" opacity="0.58"/><circle cx="349.7" cy="302.2" r="1.6" fill="#0009ff" opacity="0.43"/><circle cx="259.6" cy="356.1" r="1.6" fill="#001dff" opacity="0.28"/><circle cx="351.7" cy="237.7" r="1.4" fill="#000fff" opacity="0.27"/><circle cx="296.0" cy="360.2" r="1.4" fill="#0006ff" opacity="0.54"/><circle cx="286.8" cy="361.6" r="1.2" fill="#0000f9" opacity="0.59"/><circle cx="246.9" cy="271.4" r="1.6" fill="#0000fb" opacity="0.44"/><circle cx="357.3" cy="318.6" r="1.1" fill="#001cff" opacity="0.54"/><circle cx="318.1" cy="323.8" r="1.1" fill="#000bff" opacity="0.60"/><circle cx="373.1" cy="236.2" r="1.0" fill="#0001ff" opacity="0.53"/><circle cx="265.1" cy="259.7" r="1.6" fill="#0000fd" opacity="0.59"/><circle cx="300.8" cy="361.8" r="1.6" fill="#0000ff" opacity="0.52"/><circle cx="295.1" cy="267.1" r="0.8" fill="#001aff" opacity="0.45"/><circle cx="279.4" cy="352.6" r="1.0" fill="#000cff" opacity="0.28"/><circle cx="286.1" cy="359.9" r="1.3" fill="#0000fd" opacity="0.33"/><circle cx="327.2" cy="274.9" r="1.7" fill="#0000f8" opacity="0.55"/><circle cx="324.1" cy="351.1" r="1.2" fill="#0000f8" opacity="0.31"/><circle cx="324.8" cy="239.6" r="0.9" fill="#001eff" opacity="0.56"/><circle cx="356.9" cy="353.2" r="1.4" fill="#0022ff" opacity="0.49"/><circle cx="315.0" cy="295.6" r="0.8" fill="#0000f9" opacity="0.34"/><circle cx="301.5" cy="252.9" r="1.8" fill="#0013ff" opacity="0.51"/><circle cx="362.0" cy="267.7" r="1.7" fill="#0027ff" opacity="0.34"/><circle cx="254.6" cy="348.0" r="1.7" fill="#001fff" opacity="0.39"/><circle cx="321.3" cy="251.9" r="1.0" fill="#000bff" opacity="0.51"/><circle cx="249.4" cy="366.0" r="0.8" fill="#0027ff" opacity="0.33"/><circle cx="351.6" cy="350.5" r="1.8" fill="#000eff" opacity="0.49"/><circle cx="277.9" cy="352.6" r="0.9" fill="#0023ff" opacity="0.46"/><circle cx="245.7" cy="367.8" r="1.1" fill="#0000f8" opacity="0.34"/><circle cx="240.8" cy="275.4" r="1.5" fill="#0028ff" opacity="0.47"/><circle cx="356.6" cy="351.1" r="1.5" fill="#0009ff" opacity="0.34"/><circle cx="258.8" cy="312.6" r="1.0" fill="#001cff" opacity="0.36"/><circle cx="318.1" cy="312.5" r="1.4" fill="#0000fd" opacity="0.34"/><circle cx="333.4" cy="265.8" r="1.5" fill="#0027ff" opacity="0.39"/><circle cx="371.6" cy="322.0" r="1.7" fill="#0011ff" opacity="0.51"/><circle cx="332.6" cy="263.3" r="1.3" fill="#0013ff" opacity="0.41"/><circle cx="329.4" cy="363.3" r="1.6" fill="#001fff" opacity="0.30"/><circle cx="335.4" cy="323.8" r="1.7" fill="#0000f5" opacity="0.31"/><circle cx="373.6" cy="288.1" r="1.5" fill="#0014ff" opacity="0.39"/><circle cx="298.4" cy="314.7" r="1.8" fill="#0011ff" opacity="0.53"/><circle cx="279.5" cy="335.6" r="1.4" fill="#001cff" opacity="0.56"/><circle cx="248.2" cy="371.4" r="1.4" fill="#0003ff" opacity="0.41"/><circle cx="250.6" cy="268.4" r="1.6" fill="#001aff" opacity="0.55"/><circle cx="259.7" cy="251.1" r="1.2" fill="#000fff" opacity="0.50"/><circle cx="278.8" cy="339.2" r="1.4" fill="#0005ff" opacity="0.53"/><circle cx="247.3" cy="318.9" r="1.0" fill="#0000f7" opacity="0.42"/><circle cx="309.8" cy="321.8" r="1.2" fill="#0025ff" opacity="0.52"/><circle cx="258.6" cy="236.7" r="1.8" fill="#000bff" opacity="0.29"/><circle cx="261.9" cy="334.0" r="1.0" fill="#0009ff" opacity="0.49"/><circle cx="307" cy="306.1" r="2.3" fill="#40e0c0"/><circle cx="307" cy="306.1" r="1.3" fill="#ff9000"/><circle cx="313.1" cy="295" r="1.5" fill="#20b0ff"/><circle cx="300.6" cy="317" r="1.5" fill="#20b0ff"/></g></g><text x="233.20" y="274.55" font-size="13.50" text-anchor="end" fill="#000" stroke="#000" stroke-width="0.25" >1</text><text x="233.20" y="311.85" font-size="13.50" text-anchor="end" fill="#000" stroke="#000" stroke-width="0.25" >0</text><text x="233.20" y="348.85" font-size="13.50" text-anchor="end" fill="#000" stroke="#000" stroke-width="0.25" >-1</text><text x="267.00" y="391.90" font-size="13.50" text-anchor="middle" fill="#000" stroke="#000" stroke-width="0.25" >-1</text><text x="307.00" y="391.90" font-size="13.50" text-anchor="middle" fill="#000" stroke="#000" stroke-width="0.25" >0</text><text x="344.30" y="391.90" font-size="13.50" text-anchor="middle" fill="#000" stroke="#000" stroke-width="0.25" >1</text><text x="306.40" y="408.00" font-size="13.30" font-weight="bold" text-anchor="middle" fill="#000" stroke="#000" stroke-width="0.20" >Kx(rad m<tspan font-size="9" dy="-5">-</tspan><tspan dy="5">1)</tspan></text><text transform="translate(215.20 306.50) rotate(-90)" font-size="13.30" font-weight="bold" text-anchor="middle" stroke="#000" stroke-width="0.20">Ky(rad m<tspan font-size="9" dy="-5">-</tspan><tspan dy="5">1)</tspan></text><text x="492.20" y="224.80" font-size="13.30" font-weight="bold" text-anchor="middle" fill="#000" stroke="#000" stroke-width="0.20" >Experimental Array</text><defs><radialGradient id="g42" gradientUnits="userSpaceOnUse" cx="493" cy="306" r="100"><stop offset="0" stop-color="#0029ff"/><stop offset="0.4" stop-color="#0020ff"/><stop offset="1" stop-color="#0000e0"/></radialGradient><radialGradient id="m42" gradientUnits="userSpaceOnUse" cx="493" cy="306" r="100"><stop offset="0" stop-color="#fff"/><stop offset="0.4" stop-color="#fff"/><stop offset="0.75" stop-color="#999"/><stop offset="1" stop-color="#555"/></radialGradient><mask id="k42" maskUnits="userSpaceOnUse" x="423" y="236" width="140" height="140"><rect x="423" y="236" width="140" height="140" fill="url(#m42)"/></mask><clipPath id="c42"><rect x="423" y="236" width="140" height="140"/></clipPath><filter id="n42" x="0" y="0" width="100%" height="100%" color-interpolation-filters="sRGB"><feTurbulence type="fractalNoise" baseFrequency="0.160" numOctaves="1" seed="7"/><feColorMatrix type="matrix" values="0 0 0 0 0  0 0 0 0 0.9  0 0 0 0 1  1 0 0 0 0"/><feComponentTransfer><feFuncA type="table" tableValues="0 0 0 0 0 0 0 0 0 0 0 0 0.2 0.5 0.85 1 0.85 0.5 0.2 0 0 0 0 0 0 0 0 0 0 0 0"/></feComponentTransfer><feGaussianBlur stdDeviation="0.4"/></filter><filter id="b42" x="-10%" y="-10%" width="120%" height="120%"><feGaussianBlur stdDeviation="0.70"/></filter></defs><rect x="423" y="236" width="140" height="140" fill="url(#g42)"/><g mask="url(#k42)"><rect x="423" y="236" width="140" height="140" filter="url(#n42)" opacity="1.00"/></g><g clip-path="url(#c42)"><g filter="url(#b42)" fill="none" stroke="#44eaff" stroke-width="1.50" stroke-linecap="round"><path d="M516.3 286.7A27.9 27.9 0 0 1 552.4 297.1" stroke-opacity="0.29"/><path d="M531.1 333.0A22.2 22.2 0 0 1 506.7 325.8" stroke-opacity="0.53"/><path d="M414.5 235.5A28.4 28.4 0 0 1 438.4 238.1" stroke-opacity="0.22"/><path d="M438.1 208.7A28.8 28.8 0 0 1 474.0 200.5" stroke-opacity="0.38"/><path d="M515.2 279.2A28.6 28.6 0 0 1 552.9 275.3" stroke-opacity="0.49"/><path d="M526.5 337.7A22.6 22.6 0 0 1 513.1 335.0" stroke-opacity="0.39"/><path d="M486.7 329.1A24.1 24.1 0 0 1 481.0 356.0" stroke-opacity="0.55"/><path d="M470.4 256.3A29.9 29.9 0 0 1 501.7 252.1" stroke-opacity="0.53"/><path d="M544.4 277.3A24.5 24.5 0 0 1 528.8 269.2" stroke-opacity="0.63"/><path d="M428.3 344.0A29.3 29.3 0 0 1 431.4 321.6" stroke-opacity="0.30"/><path d="M496.3 406.7A42.0 42.0 0 0 1 446.8 372.4" stroke-opacity="0.35"/><path d="M466.3 337.6A53.8 53.8 0 0 1 460.2 308.0" stroke-opacity="0.46"/><path d="M493.2 368.5A30.3 30.3 0 0 1 525.3 383.7" stroke-opacity="0.40"/><path d="M503.7 281.7A25.6 25.6 0 0 1 489.1 312.7" stroke-opacity="0.44"/><path d="M511.0 365.7A39.0 39.0 0 0 1 553.8 360.8" stroke-opacity="0.26"/><path d="M490.8 380.3A22.0 22.0 0 0 1 482.4 372.7" stroke-opacity="0.55"/><path d="M585.4 258.8A29.0 29.0 0 0 1 586.0 275.8" stroke-opacity="0.32"/><path d="M473.6 221.5A25.8 25.8 0 0 1 486.5 206.4" stroke-opacity="0.46"/><path d="M492.7 393.8A36.0 36.0 0 0 1 473.3 346.0" stroke-opacity="0.47"/><path d="M449.3 290.5A24.7 24.7 0 0 1 463.9 279.6" stroke-opacity="0.36"/><path d="M521.3 306.2A55.8 55.8 0 0 1 490.8 334.3" stroke-opacity="0.64"/><path d="M569.6 358.7A25.8 25.8 0 0 1 589.8 384.8" stroke-opacity="0.22"/><path d="M437.2 301.2A27.8 27.8 0 0 1 474.9 313.2" stroke-opacity="0.31"/><path d="M423.1 389.2A23.5 23.5 0 0 1 426.5 367.7" stroke-opacity="0.26"/><path d="M580.3 298.0A46.5 46.5 0 0 1 520.4 327.2" stroke-opacity="0.57"/><path d="M582.4 399.6A25.9 25.9 0 0 1 559.6 393.9" stroke-opacity="0.18"/><path d="M489.5 323.0A43.7 43.7 0 0 1 507.2 264.5" stroke-opacity="0.83"/><path d="M461.7 266.2A29.7 29.7 0 0 1 488.5 250.7" stroke-opacity="0.57"/><path d="M480.7 270.7A34.7 34.7 0 0 1 479.8 290.8" stroke-opacity="0.37"/><path d="M478.8 305.7A29.1 29.1 0 0 1 451.7 289.0" stroke-opacity="0.59"/><path d="M438.0 243.2A36.1 36.1 0 0 1 464.5 247.7" stroke-opacity="0.34"/><path d="M449.8 351.7A32.2 32.2 0 0 1 473.4 312.0" stroke-opacity="0.73"/><path d="M542.1 301.6A56.4 56.4 0 0 1 556.9 348.7" stroke-opacity="0.29"/><path d="M582.5 330.3A49.6 49.6 0 0 1 539.0 377.1" stroke-opacity="0.29"/><path d="M493.8 289.5A22.9 22.9 0 0 1 505.7 276.2" stroke-opacity="0.60"/><path d="M532.8 352.6A25.9 25.9 0 0 1 528.7 386.4" stroke-opacity="0.23"/><path d="M488.7 358.7A49.1 49.1 0 0 1 444.1 318.5" stroke-opacity="0.51"/><path d="M456.0 290.9A57.1 57.1 0 0 1 518.4 250.5" stroke-opacity="0.55"/><path d="M554.4 292.4A53.9 53.9 0 0 1 564.0 364.8" stroke-opacity="0.28"/><path d="M524.9 324.1A42.2 42.2 0 0 1 549.5 311.4" stroke-opacity="0.67"/><path d="M583.7 336.3A30.7 30.7 0 0 1 608.0 345.1" stroke-opacity="0.44"/><path d="M586.4 384.7A28.3 28.3 0 0 1 549.1 390.8" stroke-opacity="0.42"/><path d="M517.3 288.4A28.4 28.4 0 0 1 502.6 286.6" stroke-opacity="0.38"/><path d="M548.4 233.6A27.1 27.1 0 0 1 554.5 195.5" stroke-opacity="0.32"/><path d="M414.7 427.8A29.7 29.7 0 0 1 398.1 420.6" stroke-opacity="0.27"/><path d="M446.8 351.0A25.1 25.1 0 0 1 461.4 338.7" stroke-opacity="0.53"/><path d="M518.0 234.9A52.3 52.3 0 0 1 563.4 232.7" stroke-opacity="0.21"/><path d="M458.1 389.2A51.6 51.6 0 0 1 426.9 361.0" stroke-opacity="0.32"/><path d="M473.3 302.0A29.5 29.5 0 0 1 511.8 313.5" stroke-opacity="0.64"/><path d="M469.5 293.4A25.4 25.4 0 0 1 495.6 280.5" stroke-opacity="0.53"/><path d="M530.6 402.8A53.9 53.9 0 0 1 499.7 409.3" stroke-opacity="0.33"/><path d="M458.6 427.0A50.2 50.2 0 0 1 424.0 420.0" stroke-opacity="0.16"/><path d="M389.1 301.2A25.3 25.3 0 0 1 405.4 294.3" stroke-opacity="0.39"/><path d="M499.0 343.9A28.0 28.0 0 0 1 514.4 351.1" stroke-opacity="0.45"/><path d="M559.4 272.3A24.0 24.0 0 0 1 569.4 293.0" stroke-opacity="0.49"/><path d="M510.3 264.5A56.7 56.7 0 0 1 576.9 249.8" stroke-opacity="0.39"/><path d="M499.8 428.0A44.2 44.2 0 0 1 469.7 413.7" stroke-opacity="0.35"/><path d="M492.1 352.9A22.6 22.6 0 0 1 477.9 342.6" stroke-opacity="0.40"/><path d="M561.1 351.0A51.2 51.2 0 0 1 525.2 380.9" stroke-opacity="0.39"/><path d="M489.6 306.5A47.5 47.5 0 0 1 547.9 329.7" stroke-opacity="0.67"/><path d="M588.1 291.5A55.6 55.6 0 0 1 578.5 342.0" stroke-opacity="0.42"/><path d="M492.8 291.4A25.5 25.5 0 0 1 480.3 308.9" stroke-opacity="0.67"/><path d="M545.3 354.0A27.0 27.0 0 0 1 530.9 373.6" stroke-opacity="0.41"/><path d="M461.6 302.4A22.4 22.4 0 0 1 455.4 287.6" stroke-opacity="0.42"/><path d="M502.0 373.9A37.6 37.6 0 0 1 488.5 387.7" stroke-opacity="0.39"/><path d="M464.9 285.9A49.6 49.6 0 0 1 513.1 335.4" stroke-opacity="0.41"/><path d="M515.8 371.1A46.9 46.9 0 0 1 465.3 347.7" stroke-opacity="0.56"/><path d="M462.5 253.1A28.6 28.6 0 0 1 461.0 270.4" stroke-opacity="0.24"/><path d="M467.6 217.0A27.7 27.7 0 0 1 438.4 231.6" stroke-opacity="0.38"/><path d="M538.8 215.8A33.6 33.6 0 0 1 515.7 251.2" stroke-opacity="0.31"/><path d="M468.9 319.0A28.8 28.8 0 0 1 481.5 331.0" stroke-opacity="0.78"/><path d="M553.7 237.9A27.9 27.9 0 0 1 549.8 259.2" stroke-opacity="0.47"/><path d="M467.8 280.4A38.1 38.1 0 0 1 478.8 328.6" stroke-opacity="0.33"/><path d="M483.5 306.5A41.4 41.4 0 0 1 440.9 340.4" stroke-opacity="0.35"/><path d="M496.8 317.1A51.0 51.0 0 0 1 473.2 306.6" stroke-opacity="0.81"/><path d="M452.4 214.6A50.7 50.7 0 0 1 502.3 207.8" stroke-opacity="0.42"/><path d="M479.0 378.4A26.7 26.7 0 0 1 489.0 352.8" stroke-opacity="0.39"/><path d="M476.4 383.8A24.0 24.0 0 0 1 461.3 391.2" stroke-opacity="0.22"/><path d="M491.1 251.7A25.9 25.9 0 0 1 520.8 273.3" stroke-opacity="0.49"/><path d="M540.2 325.5A23.4 23.4 0 0 1 525.9 345.1" stroke-opacity="0.36"/><path d="M474.6 346.4A28.9 28.9 0 0 1 498.6 316.2" stroke-opacity="0.58"/><path d="M437.0 320.6A29.5 29.5 0 0 1 457.4 288.3" stroke-opacity="0.43"/><path d="M473.9 320.1A26.5 26.5 0 0 1 457.9 285.8" stroke-opacity="0.34"/><path d="M488.9 371.0A26.2 26.2 0 0 1 493.4 346.6" stroke-opacity="0.61"/><path d="M504.3 312.8A52.2 52.2 0 0 1 503.0 350.0" stroke-opacity="0.39"/><path d="M487.4 335.9A22.0 22.0 0 0 1 493.7 312.8" stroke-opacity="0.44"/><path d="M498.7 225.8A27.5 27.5 0 0 1 491.6 259.8" stroke-opacity="0.46"/><path d="M559.1 272.0A27.2 27.2 0 0 1 554.6 307.0" stroke-opacity="0.24"/><path d="M483.8 393.1A24.3 24.3 0 0 1 455.5 397.7" stroke-opacity="0.40"/><path d="M472.8 314.0A22.3 22.3 0 0 1 472.8 295.5" stroke-opacity="0.42"/><path d="M605.7 285.6A29.6 29.6 0 0 1 585.8 313.7" stroke-opacity="0.25"/><path d="M519.0 307.5A57.5 57.5 0 0 1 457.4 298.8" stroke-opacity="0.65"/><path d="M545.1 307.2A27.4 27.4 0 0 1 555.3 327.7" stroke-opacity="0.51"/><path d="M560.5 301.7A25.6 25.6 0 0 1 546.2 286.0" stroke-opacity="0.61"/><path d="M320.0 317.7A46.3 46.3 0 0 1 313.9 286.3" stroke-opacity="0.25"/><path d="M541.3 345.4A26.4 26.4 0 0 1 540.4 370.2" stroke-opacity="0.47"/><path d="M531.7 288.3A23.3 23.3 0 0 1 550.4 272.6" stroke-opacity="0.27"/><path d="M545.3 298.7A28.7 28.7 0 0 1 565.7 271.0" stroke-opacity="0.41"/><path d="M537.3 215.0A26.4 26.4 0 0 1 538.3 178.8" stroke-opacity="0.31"/><path d="M603.2 245.1A42.4 42.4 0 0 1 598.3 287.7" stroke-opacity="0.40"/><path d="M501.6 399.0A44.7 44.7 0 0 1 455.4 403.2" stroke-opacity="0.28"/><path d="M437.6 270.4A23.5 23.5 0 0 1 462.1 276.2" stroke-opacity="0.33"/><path d="M362.5 389.6A54.3 54.3 0 0 1 356.2 327.2" stroke-opacity="0.38"/><path d="M510.3 195.7A26.7 26.7 0 0 1 513.5 231.3" stroke-opacity="0.32"/><path d="M439.0 347.7A27.2 27.2 0 0 1 412.6 350.2" stroke-opacity="0.53"/><path d="M505.3 202.0A55.6 55.6 0 0 1 525.6 246.9" stroke-opacity="0.29"/><path d="M483.1 198.3A22.5 22.5 0 0 1 514.0 198.6" stroke-opacity="0.46"/><path d="M421.6 333.7A56.2 56.2 0 0 1 439.8 269.9" stroke-opacity="0.58"/><path d="M481.0 265.6A23.2 23.2 0 0 1 497.9 247.6" stroke-opacity="0.59"/><path d="M604.8 330.0A37.2 37.2 0 0 1 610.1 353.4" stroke-opacity="0.29"/><path d="M467.7 260.9A57.0 57.0 0 0 1 505.2 256.5" stroke-opacity="0.44"/><path d="M451.8 252.6A24.0 24.0 0 0 1 461.5 266.4" stroke-opacity="0.38"/><path d="M489.3 393.2A29.9 29.9 0 0 1 469.0 355.9" stroke-opacity="0.45"/><path d="M405.6 258.9A31.5 31.5 0 0 1 434.8 247.3" stroke-opacity="0.48"/><path d="M491.9 228.7A27.1 27.1 0 0 1 523.0 222.8" stroke-opacity="0.44"/><path d="M508.5 298.2A49.4 49.4 0 0 1 478.1 262.8" stroke-opacity="0.58"/><path d="M548.6 352.2A35.3 35.3 0 0 1 512.6 359.3" stroke-opacity="0.61"/><path d="M537.1 265.4A28.6 28.6 0 0 1 557.2 234.8" stroke-opacity="0.46"/><path d="M598.5 359.6A29.7 29.7 0 0 1 606.7 394.5" stroke-opacity="0.43"/><path d="M523.1 272.8A30.4 30.4 0 0 1 542.5 251.0" stroke-opacity="0.50"/><path d="M424.2 296.7A33.3 33.3 0 0 1 407.1 293.9" stroke-opacity="0.51"/><path d="M544.5 274.4A28.6 28.6 0 0 1 548.0 297.3" stroke-opacity="0.40"/><path d="M546.5 278.5A22.8 22.8 0 0 1 551.9 292.0" stroke-opacity="0.41"/><path d="M504.1 220.4A27.9 27.9 0 0 1 478.6 223.6" stroke-opacity="0.22"/><path d="M376.8 375.1A25.0 25.0 0 0 1 390.9 343.3" stroke-opacity="0.40"/><path d="M438.1 278.5A40.8 40.8 0 0 1 430.1 251.3" stroke-opacity="0.25"/><path d="M531.6 344.3A47.9 47.9 0 0 1 487.5 385.7" stroke-opacity="0.32"/><path d="M485.1 334.7A36.2 36.2 0 0 1 443.1 311.0" stroke-opacity="0.43"/><path d="M519.3 329.0A34.3 34.3 0 0 1 495.0 338.3" stroke-opacity="0.36"/><path d="M484.1 340.5A37.1 37.1 0 0 1 466.7 322.3" stroke-opacity="0.30"/><path d="M391.4 291.5A28.2 28.2 0 0 1 398.0 275.6" stroke-opacity="0.32"/><path d="M359.4 373.4A45.6 45.6 0 0 1 391.1 317.6" stroke-opacity="0.17"/><path d="M463.4 358.7A29.3 29.3 0 0 1 451.7 371.1" stroke-opacity="0.44"/><path d="M507.6 368.1A24.6 24.6 0 0 1 495.3 390.3" stroke-opacity="0.37"/><path d="M555.7 297.7A49.5 49.5 0 0 1 598.7 339.0" stroke-opacity="0.26"/><path d="M519.5 360.8A25.3 25.3 0 0 1 498.6 371.9" stroke-opacity="0.48"/><path d="M575.4 405.3A28.7 28.7 0 0 1 562.1 416.0" stroke-opacity="0.36"/><path d="M521.8 340.1A24.6 24.6 0 0 1 501.9 347.5" stroke-opacity="0.56"/><path d="M536.5 387.9A48.0 48.0 0 0 1 518.1 339.6" stroke-opacity="0.29"/><path d="M499.7 286.4A41.0 41.0 0 0 1 534.9 312.8" stroke-opacity="0.70"/><path d="M634.6 376.5A49.3 49.3 0 0 1 580.3 417.4" stroke-opacity="0.38"/><path d="M547.4 370.4A24.7 24.7 0 0 1 524.5 394.1" stroke-opacity="0.37"/><path d="M539.1 382.9A28.0 28.0 0 0 1 514.1 376.2" stroke-opacity="0.31"/><path d="M500.6 236.7A22.7 22.7 0 0 1 491.3 248.4" stroke-opacity="0.46"/><path d="M480.1 396.9A25.5 25.5 0 0 1 458.4 374.1" stroke-opacity="0.23"/><path d="M505.2 380.0A27.3 27.3 0 0 1 488.3 398.0" stroke-opacity="0.39"/><path d="M471.8 356.6A24.0 24.0 0 0 1 462.9 348.4" stroke-opacity="0.56"/><path d="M451.7 327.1A28.7 28.7 0 0 1 464.8 336.9" stroke-opacity="0.65"/><path d="M551.4 296.9A47.3 47.3 0 0 1 601.8 271.3" stroke-opacity="0.32"/><path d="M556.5 269.0A48.5 48.5 0 0 1 576.1 332.6" stroke-opacity="0.23"/><path d="M433.4 346.8A25.2 25.2 0 0 1 418.8 331.3" stroke-opacity="0.32"/><path d="M453.8 328.3A29.2 29.2 0 0 1 443.5 294.4" stroke-opacity="0.62"/><path d="M443.0 209.9A26.8 26.8 0 0 1 467.0 229.1" stroke-opacity="0.23"/><path d="M530.5 335.9A43.5 43.5 0 0 1 526.6 382.0" stroke-opacity="0.47"/><path d="M513.5 266.4A22.5 22.5 0 0 1 514.5 248.2" stroke-opacity="0.35"/><path d="M465.3 284.7A22.5 22.5 0 0 1 474.2 294.0" stroke-opacity="0.72"/><path d="M522.4 281.9A26.4 26.4 0 0 1 541.6 312.1" stroke-opacity="0.47"/><path d="M544.2 279.8A23.2 23.2 0 0 1 535.2 290.6" stroke-opacity="0.63"/><path d="M459.0 263.1A24.0 24.0 0 0 1 461.2 240.6" stroke-opacity="0.42"/><path d="M447.2 318.0A24.7 24.7 0 0 1 477.3 309.7" stroke-opacity="0.60"/></g></g><circle cx="493.4" cy="306.4" r="23.1" fill="none" stroke="#a0ff60" stroke-width="3.2" opacity="0.4"/><circle cx="493.4" cy="306.4" r="23" fill="none" stroke="#ffe400" stroke-width="2.1"/><path d="M506.59 287.56A23.0 23.0 0 0 1 510.22 290.71" fill="none" stroke="#f02000" stroke-width="2" stroke-linecap="round" opacity="0.75"/><path d="M516.08 310.20A23.0 23.0 0 0 1 514.80 314.83" fill="none" stroke="#f02000" stroke-width="2" stroke-linecap="round" opacity="0.75"/><path d="M479.24 324.52A23.0 23.0 0 0 1 475.78 321.18" fill="none" stroke="#f02000" stroke-width="2" stroke-linecap="round" opacity="0.75"/><path d="M470.75 302.41A23.0 23.0 0 0 1 472.07 297.78" fill="none" stroke="#f02000" stroke-width="2" stroke-linecap="round" opacity="0.75"/><path d="M475.28 292.24A23.0 23.0 0 0 1 478.62 288.78" fill="none" stroke="#f02000" stroke-width="2" stroke-linecap="round" opacity="0.45"/><path d="M512.01 319.92A23.0 23.0 0 0 1 508.79 323.49" fill="none" stroke="#f02000" stroke-width="2" stroke-linecap="round" opacity="0.45"/><g stroke="#000" stroke-width="1.2" stroke-dasharray="6.8 4.8" opacity="0.55"><line x1="492.8" y1="236" x2="492.8" y2="376" stroke-dashoffset="10.2"/><line x1="423" y1="306.4" x2="563" y2="306.4" stroke-dashoffset="6.7"/></g><text x="419.20" y="274.55" font-size="13.50" text-anchor="end" fill="#000" stroke="#000" stroke-width="0.25" >1</text><text x="419.20" y="311.85" font-size="13.50" text-anchor="end" fill="#000" stroke="#000" stroke-width="0.25" >0</text><text x="419.20" y="348.85" font-size="13.50" text-anchor="end" fill="#000" stroke="#000" stroke-width="0.25" >-1</text><text x="453.00" y="391.90" font-size="13.50" text-anchor="middle" fill="#000" stroke="#000" stroke-width="0.25" >-1</text><text x="493.00" y="391.90" font-size="13.50" text-anchor="middle" fill="#000" stroke="#000" stroke-width="0.25" >0</text><text x="530.30" y="391.90" font-size="13.50" text-anchor="middle" fill="#000" stroke="#000" stroke-width="0.25" >1</text><text x="492.40" y="408.00" font-size="13.30" font-weight="bold" text-anchor="middle" fill="#000" stroke="#000" stroke-width="0.20" >Kx(rad m<tspan font-size="9" dy="-5">-</tspan><tspan dy="5">1)</tspan></text><text transform="translate(401.20 306.50) rotate(-90)" font-size="13.30" font-weight="bold" text-anchor="middle" stroke="#000" stroke-width="0.20">Ky(rad m<tspan font-size="9" dy="-5">-</tspan><tspan dy="5">1)</tspan></text><rect x="52.5" y="23.5" width="140" height="141" fill="none" stroke="#000" stroke-opacity="0.45" stroke-width="1"/><rect x="257.5" y="33.5" width="121" height="121" fill="none" stroke="#000" stroke-opacity="0.45" stroke-width="1"/><rect x="443.5" y="33.5" width="121" height="120" fill="none" stroke="#000" stroke-opacity="0.45" stroke-width="1"/><rect x="50.5" y="235.5" width="140" height="141" fill="none" stroke="#000" stroke-opacity="0.45" stroke-width="1"/><rect x="237.5" y="236.5" width="139" height="139" fill="none" stroke="#000" stroke-opacity="0.45" stroke-width="1"/><rect x="423.5" y="236.5" width="139" height="139" fill="none" stroke="#000" stroke-opacity="0.45" stroke-width="1"/><text x="2.00" y="442.50" font-size="16.00" font-weight="bold" text-anchor="start" fill="#000" stroke="#000" stroke-width="0.20" >(c)</text><text x="314.00" y="437.00" font-size="15.80" font-weight="bold" text-anchor="middle" fill="#000" stroke="#000" stroke-width="0.20" >wavenumber limits</text><rect x="97.5" y="446.5" width="435" height="255" fill="none" stroke="#333" stroke-width="1"/><text x="97.00" y="715.00" font-size="13.50" text-anchor="middle" fill="#000" stroke="#000" stroke-width="0.25" >0</text><text x="169.50" y="715.00" font-size="13.50" text-anchor="middle" fill="#000" stroke="#000" stroke-width="0.25" >5</text><text x="242.00" y="715.00" font-size="13.50" text-anchor="middle" fill="#000" stroke="#000" stroke-width="0.25" >10</text><text x="314.50" y="715.00" font-size="13.50" text-anchor="middle" fill="#000" stroke="#000" stroke-width="0.25" >15</text><text x="387.00" y="715.00" font-size="13.50" text-anchor="middle" fill="#000" stroke="#000" stroke-width="0.25" >20</text><text x="459.50" y="715.00" font-size="13.50" text-anchor="middle" fill="#000" stroke="#000" stroke-width="0.25" >25</text><text x="532.00" y="715.00" font-size="13.50" text-anchor="middle" fill="#000" stroke="#000" stroke-width="0.25" >30</text><text x="91.70" y="705.85" font-size="13.50" text-anchor="end" fill="#000" stroke="#000" stroke-width="0.25" >0</text><text x="91.70" y="642.10" font-size="13.50" text-anchor="end" fill="#000" stroke="#000" stroke-width="0.25" >500</text><text x="91.70" y="578.35" font-size="13.50" text-anchor="end" fill="#000" stroke="#000" stroke-width="0.25" >1000</text><text x="91.70" y="514.60" font-size="13.50" text-anchor="end" fill="#000" stroke="#000" stroke-width="0.25" >1500</text><text x="91.70" y="450.85" font-size="13.50" text-anchor="end" fill="#000" stroke="#000" stroke-width="0.25" >2000</text><path d="M169.5 702 v-4.5 M169.5 447 v4.5 M242.5 702 v-4.5 M242.5 447 v4.5 M314.5 702 v-4.5 M314.5 447 v4.5 M387.5 702 v-4.5 M387.5 447 v4.5 M459.5 702 v-4.5 M459.5 447 v4.5 M98 637.5 h4.5 M532 637.5 h-4.5 M98 574.5 h4.5 M532 574.5 h-4.5 M98 510.5 h4.5 M532 510.5 h-4.5" stroke="#333" stroke-width="1" fill="none"/><line x1="111.3" y1="638.3" x2="156.1" y2="446" stroke="#ff1000" stroke-width="1.8"/><g fill="#ee0000" stroke="#600000" stroke-width="0.45"><circle cx="111.5" cy="699.4" r="1.9"/><circle cx="126.0" cy="697.8" r="1.9"/><circle cx="140.5" cy="696.2" r="1.9"/><circle cx="155.0" cy="694.6" r="1.9"/><circle cx="169.5" cy="693.0" r="1.9"/><circle cx="184.0" cy="691.4" r="1.9"/><circle cx="198.5" cy="689.8" r="1.9"/><circle cx="213.0" cy="688.1" r="1.9"/><circle cx="227.5" cy="686.5" r="1.9"/><circle cx="242.0" cy="684.9" r="1.9"/><circle cx="256.5" cy="683.3" r="1.9"/><circle cx="271.0" cy="681.7" r="1.9"/><circle cx="285.5" cy="680.1" r="1.9"/><circle cx="300.0" cy="678.5" r="1.9"/><circle cx="314.5" cy="676.9" r="1.9"/><circle cx="329.0" cy="675.3" r="1.9"/><circle cx="343.5" cy="673.7" r="1.9"/><circle cx="358.0" cy="672.1" r="1.9"/><circle cx="372.5" cy="670.5" r="1.9"/><circle cx="387.0" cy="668.9" r="1.9"/><circle cx="401.5" cy="667.3" r="1.9"/><circle cx="416.0" cy="665.7" r="1.9"/><circle cx="430.5" cy="664.1" r="1.9"/><circle cx="445.0" cy="662.4" r="1.9"/><circle cx="459.5" cy="660.8" r="1.9"/><circle cx="474.0" cy="659.2" r="1.9"/><circle cx="488.5" cy="657.6" r="1.9"/><circle cx="503.0" cy="656.0" r="1.9"/><circle cx="517.5" cy="654.4" r="1.9"/><circle cx="532.0" cy="652.8" r="1.9"/></g><path d="M134.2 479.6 L148 466.6 L148 472.9 L168.2 472.9 L168.2 485.7 L148 485.7 L148 492.2 Z" fill="#4a78b0" stroke="#3a62a0" stroke-width="2" stroke-linejoin="round"/><text x="178.45" y="484.20" font-size="20.50" font-weight="bold" fill="#0a0a0a" textLength="33.02" lengthAdjust="spacingAndGlyphs">low</text><text x="216.58" y="484.20" font-size="20.50" font-weight="bold" fill="#0a0a0a" textLength="93.44" lengthAdjust="spacingAndGlyphs">resolution</text><text x="317.64" y="484.20" font-size="20.50" font-weight="bold" fill="#0a0a0a" textLength="69.19" lengthAdjust="spacingAndGlyphs">domain</text><text x="181.41" y="569.00" font-size="20.50" font-weight="bold" fill="#0a0a0a" textLength="81.86" lengthAdjust="spacingAndGlyphs">effective</text><text x="267.96" y="569.00" font-size="20.50" font-weight="bold" fill="#0a0a0a" textLength="52.61" lengthAdjust="spacingAndGlyphs">phase</text><text x="328.51" y="569.00" font-size="20.50" font-weight="bold" fill="#0a0a0a" textLength="71.33" lengthAdjust="spacingAndGlyphs">velocity</text><text x="204.84" y="597.00" font-size="20.50" font-weight="bold" fill="#0a0a0a" textLength="98.03" lengthAdjust="spacingAndGlyphs">estimation</text><text x="309.45" y="597.00" font-size="20.50" font-weight="bold" fill="#0a0a0a" textLength="68.26" lengthAdjust="spacingAndGlyphs">domain</text><text x="378.76" y="691.20" font-size="20.50" font-weight="bold" fill="#0a0a0a" textLength="68.42" lengthAdjust="spacingAndGlyphs">aliasing</text><text x="452.94" y="691.20" font-size="20.50" font-weight="bold" fill="#0a0a0a" textLength="69.09" lengthAdjust="spacingAndGlyphs">domain</text><text x="313.70" y="733.80" font-size="14.00" font-weight="bold" text-anchor="middle" fill="#000" stroke="#000" stroke-width="0.20" >Freq.(Hz)</text><text transform="translate(53.50 574.00) rotate(-90)" font-size="14.20" font-weight="bold" text-anchor="middle" stroke="#000" stroke-width="0.20">Vel(m/s)</text>
</svg></body></html>
